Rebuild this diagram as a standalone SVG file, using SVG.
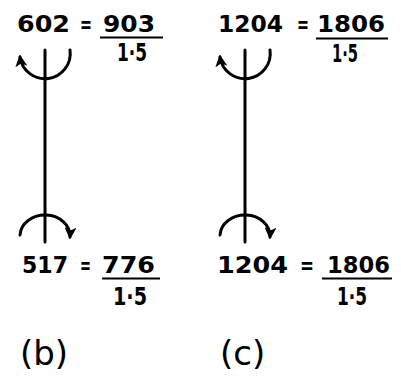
<svg xmlns="http://www.w3.org/2000/svg" width="401" height="377" viewBox="0 0 401 377">
<defs>
<marker id="ah" markerWidth="12" markerHeight="12" viewBox="0 0 10 10" refX="8" refY="5" orient="auto" markerUnits="userSpaceOnUse">
<path d="M0,0 L10,5 L0,10 L2.5,5 Z" fill="#000"/>
</marker>
<style>
.num{font-family:"DejaVu Sans",sans-serif;font-weight:bold;font-size:23px;fill:#000}
.den{font-family:"DejaVu Sans",sans-serif;font-weight:bold;font-size:25px;fill:#000}
.lab{font-family:"DejaVu Sans",sans-serif;font-size:34px;fill:#000}
.ln{stroke:#000;stroke-width:3;fill:none;stroke-linecap:round}
</style>
</defs>
<g id="connectors">
<line class="ln" x1="45" y1="50" x2="45" y2="242"/>
<line class="ln" x1="245" y1="50" x2="245" y2="242"/>
<path class="ln" d="M70,50 A25,25 0 0 1 20,57" marker-end="url(#ah)"/>
<path class="ln" d="M270,50 A25,25 0 0 1 220,57" marker-end="url(#ah)"/>
<path class="ln" d="M20,235 A25,21 0 0 1 70,237" marker-end="url(#ah)"/>
<path class="ln" d="M220,235 A25,21 0 0 1 270,237" marker-end="url(#ah)"/>
</g>
<g id="b-top">
<text class="num" x="17" y="32" textLength="53" lengthAdjust="spacingAndGlyphs">602</text>
<text class="num" x="80" y="32" textLength="12" lengthAdjust="spacingAndGlyphs">=</text>
<text class="num" x="103" y="32" textLength="52" lengthAdjust="spacingAndGlyphs">903</text>
<line x1="100" y1="37.5" x2="163" y2="37.5" stroke="#000" stroke-width="2"/>
<text class="den" x="117" y="61" textLength="30" lengthAdjust="spacingAndGlyphs">1·5</text>
</g>
<g id="c-top">
<text class="num" x="218" y="32" textLength="65" lengthAdjust="spacingAndGlyphs">1204</text>
<text class="num" x="297" y="32" textLength="12" lengthAdjust="spacingAndGlyphs">=</text>
<text class="num" x="317" y="32" textLength="68" lengthAdjust="spacingAndGlyphs">1806</text>
<line x1="316" y1="38.5" x2="388" y2="38.5" stroke="#000" stroke-width="2"/>
<text class="den" x="332" y="62" textLength="26" lengthAdjust="spacingAndGlyphs">1·5</text>
</g>
<g id="b-bottom">
<text class="num" x="22" y="273" textLength="46" lengthAdjust="spacingAndGlyphs">517</text>
<text class="num" x="80" y="273" textLength="11" lengthAdjust="spacingAndGlyphs">=</text>
<text class="num" x="102" y="273" textLength="53" lengthAdjust="spacingAndGlyphs">776</text>
<line x1="102" y1="278.5" x2="160" y2="278.5" stroke="#000" stroke-width="2"/>
<text class="den" x="113" y="305" textLength="34" lengthAdjust="spacingAndGlyphs">1·5</text>
</g>
<g id="c-bottom">
<text class="num" x="217" y="273" textLength="71" lengthAdjust="spacingAndGlyphs">1204</text>
<text class="num" x="300" y="273" textLength="14" lengthAdjust="spacingAndGlyphs">=</text>
<text class="num" x="327" y="273" textLength="63" lengthAdjust="spacingAndGlyphs">1806</text>
<line x1="322" y1="278.5" x2="392" y2="278.5" stroke="#000" stroke-width="2"/>
<text class="den" x="337" y="305" textLength="30" lengthAdjust="spacingAndGlyphs">1·5</text>
</g>
<g id="label-b"><text class="lab" x="20" y="365">(b)</text></g>
<g id="label-c"><text class="lab" x="220" y="365">(c)</text></g>
</svg>
